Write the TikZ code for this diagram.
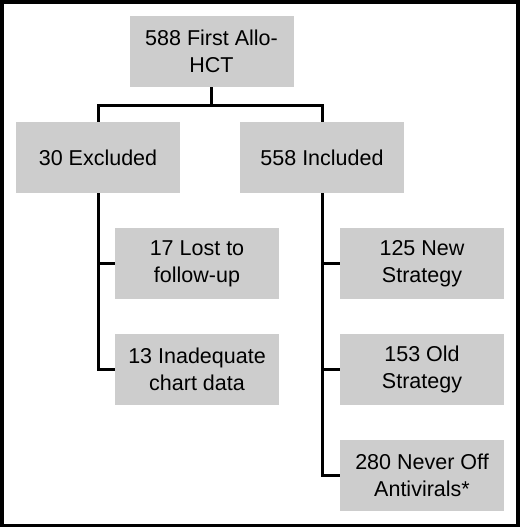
\documentclass[tikz,border=0pt]{standalone}
\usepackage{fontspec}
\setmainfont{Liberation Sans}
\begin{document}
\begin{tikzpicture}[x=1pt,y=-1pt,
  boxnode/.style={fill={rgb,255:red,205;green,205;blue,205}, minimum width=164pt, minimum height=71pt,
    inner sep=0pt, align=center, font=\fontsize{21.5}{26.7}\selectfont},
  conn/.style={line width=3pt, line join=miter}]
\fill[black] (0,0) rectangle (520,527);
\fill[white] (4,4) rectangle (516,523.5);
\useasboundingbox (0,0) rectangle (520,527);
\node[boxnode] (top) at (211.5,51.5) {588 First Allo-\\HCT};
\node[boxnode] (exc) at (98,157.5) {30 Excluded};
\node[boxnode] (inc) at (322,157.5) {558 Included};
\node[boxnode] (lost) at (197,263.5) {17 Lost to\\follow-up};
\node[boxnode] (inad) at (197,369.5) {13 Inadequate\\chart data};
\node[boxnode] (new) at (422,263.5) {125 New\\Strategy};
\node[boxnode] (old) at (422,369.5) {153 Old\\Strategy};
\node[boxnode] (never) at (422,475) {280 Never Off\\Antivirals*};
\coordinate (j) at (211.5,105);
\draw[conn] (top.south) -- (j) -| (exc.north);
\draw[conn] (j) -| (inc.north);
\draw[conn] (exc.south) |- (lost.west);
\draw[conn] (exc.south) |- (inad.west);
\draw[conn] (inc.south) |- (new.west);
\draw[conn] (inc.south) |- (old.west);
\draw[conn] (inc.south) |- (never.west);
\end{tikzpicture}
\end{document}
